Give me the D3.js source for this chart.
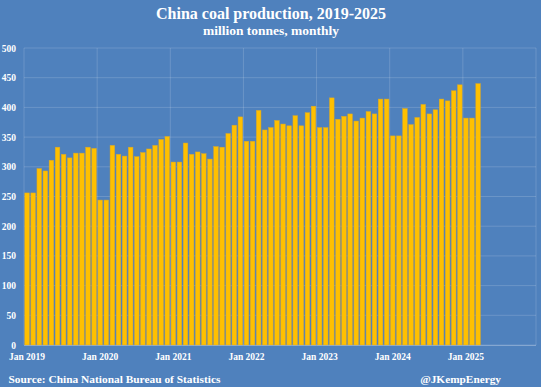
<!DOCTYPE html>
<html>
<head>
<meta charset="utf-8">
<script src="https://cdn.jsdelivr.net/npm/d3@7"></script>
<style>
  body { margin: 0; background: #4f81bd; }
  svg text { font-family: "Liberation Serif", "DejaVu Serif", serif; font-weight: bold; fill: #fff; }
</style>
</head>
<body>
<svg id="chart"></svg>
<script>
// monthly output, million tonnes (Jan/Feb reported as a combined figure, split evenly)
const years = [2019, 2020, 2021, 2022, 2023, 2024, 2025]
const monthNames = ['Jan', 'Feb', 'Mar', 'Apr', 'May', 'Jun', 'Jul', 'Aug', 'Sep', 'Oct', 'Nov', 'Dec']
const production2019 = [256, 256, 297, 293, 311, 333, 321, 315, 323, 323, 333, 331]
const production2020 = [244, 244, 336, 321, 318, 333, 317, 324, 330, 336, 346, 351]
const production2021 = [308, 308, 340, 321, 325, 322, 313, 334, 333, 356, 370, 384]
const production2022 = [343, 343, 395, 362, 366, 378, 372, 369, 386, 369, 391, 402]
const production2023 = [366, 366, 416, 380, 385, 389, 377, 382, 393, 389, 414, 414]
const production2024 = [352, 352, 398, 371, 383, 405, 389, 396, 414, 411, 428, 438]
const production2025 = [382, 382, 440]
const yTicks = [0, 50, 100, 150, 200, 250, 300, 350, 400, 450, 500]

const width = 541
const height = 387
const margin = { top: 48, right: 5, bottom: 42, left: 24 }

const series = [production2019, production2020, production2021, production2022,
  production2023, production2024, production2025]

// every month slot on the axis, including the empty rest of 2025
const months = []
years.forEach(y => monthNames.forEach((m, i) => months.push(y + '-' + i)))

const data = []
series.forEach((vals, yi) => {
  vals.forEach((v, mi) => data.push({ key: years[yi] + '-' + mi, value: v }))
})

const svg = d3.select('#chart')
  .attr('width', width)
  .attr('height', height)

const x = d3.scaleBand()
  .domain(months)
  .range([margin.left, width - margin.right])
  .paddingInner(0.25)
  .paddingOuter(0.125)

const y = d3.scaleLinear()
  .domain([0, 500])
  .range([height - margin.bottom, margin.top])

const edge = key => x(key) - x.step() * 0.125

// grid
svg.append('g')
  .selectAll('line')
  .data(yTicks)
  .join('line')
  .attr('x1', margin.left)
  .attr('x2', width - margin.right)
  .attr('y1', d => y(d))
  .attr('y2', d => y(d))
  .attr('stroke', 'rgba(255,255,255,0.16)')

svg.append('g')
  .selectAll('line')
  .data(years.concat([null]))
  .join('line')
  .attr('x1', d => d === null ? width - margin.right : edge(d + '-0'))
  .attr('x2', d => d === null ? width - margin.right : edge(d + '-0'))
  .attr('y1', y(0))
  .attr('y2', y(500))
  .attr('stroke', 'rgba(255,255,255,0.16)')

// bars
svg.append('g')
  .selectAll('rect')
  .data(data)
  .join('rect')
  .attr('x', d => x(d.key))
  .attr('y', d => y(d.value))
  .attr('width', x.bandwidth())
  .attr('height', d => y(0) - y(d.value))
  .attr('fill', '#ffc000')
  .attr('stroke', '#d9a72a')
  .attr('stroke-width', 0.5)

// axis line
svg.append('line')
  .attr('x1', margin.left)
  .attr('x2', width - margin.right)
  .attr('y1', y(0) + 0.5)
  .attr('y2', y(0) + 0.5)
  .attr('stroke', 'rgba(255,255,255,0.25)')

// y labels
svg.append('g')
  .selectAll('text')
  .data(yTicks)
  .join('text')
  .attr('x', 16)
  .attr('y', d => y(d) + 3.5)
  .attr('text-anchor', 'end')
  .attr('font-size', 9.5)
  .text(d => d)

// x labels
svg.append('g')
  .selectAll('text')
  .data(years)
  .join('text')
  .attr('x', d => x(d + '-0') + x.bandwidth() / 2)
  .attr('y', 360)
  .attr('text-anchor', 'middle')
  .attr('font-size', 9.5)
  .text(d => 'Jan ' + d)

// titles
svg.append('text')
  .attr('x', 271)
  .attr('y', 19)
  .attr('text-anchor', 'middle')
  .attr('font-size', 16)
  .text('China coal production, 2019-2025')

svg.append('text')
  .attr('x', 271)
  .attr('y', 34.5)
  .attr('text-anchor', 'middle')
  .attr('font-size', 13.5)
  .text('million tonnes, monthly')

svg.append('text')
  .attr('x', 8.5)
  .attr('y', 382.5)
  .attr('font-size', 11.4)
  .text('Source: China National Bureau of Statistics')

svg.append('text')
  .attr('x', 501)
  .attr('y', 382.5)
  .attr('text-anchor', 'end')
  .attr('font-size', 11.3)
  .text('@JKempEnergy')
</script>
</body>
</html>
